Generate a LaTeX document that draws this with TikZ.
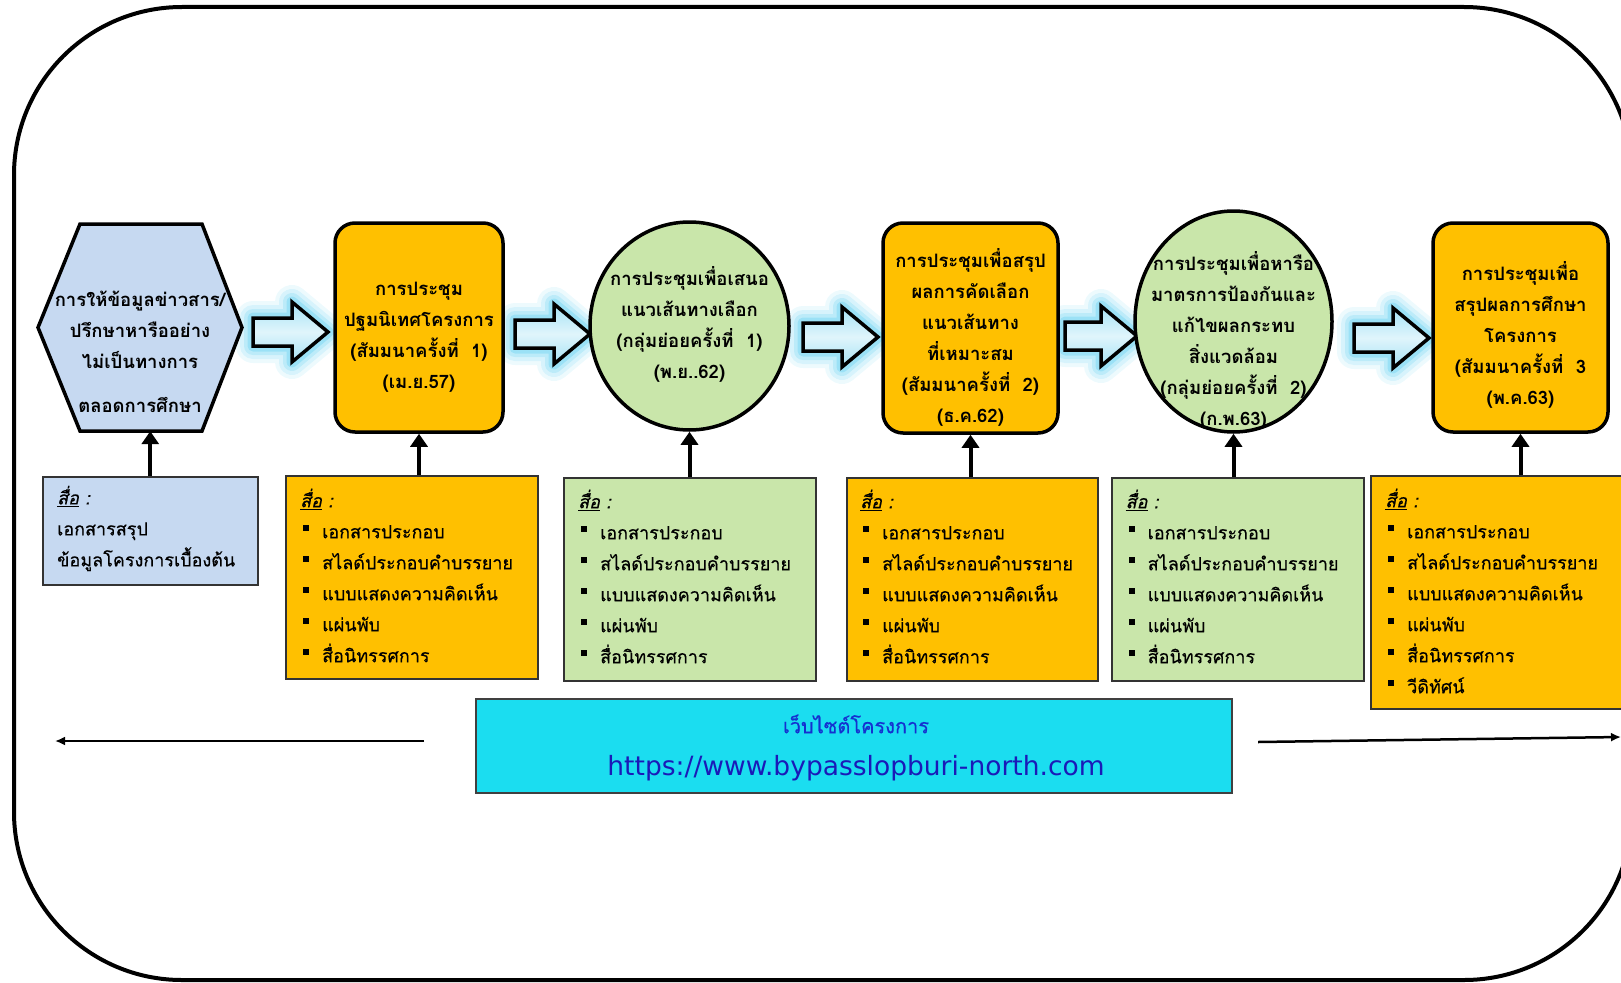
\documentclass[tikz,border=0pt]{standalone}
\usepackage{fontspec}
\setmainfont[Script=Thai]{Loma}
\newfontfamily\medfont[Script=Thai,FakeBold=0.5]{Loma}
\newfontfamily\urlfont{DejaVu Sans}
\usetikzlibrary{shapes.geometric,arrows.meta}
\definecolor{hexblue}{HTML}{C6D9F1}
\definecolor{orng}{HTML}{FFC000}
\definecolor{lgreen}{HTML}{C9E6AA}
\definecolor{webcyan}{HTML}{1BDDF0}
\definecolor{glowc}{HTML}{4FCBF0}
\definecolor{arrfill}{HTML}{A5E2F5}
\definecolor{titleblue}{HTML}{1530D0}
\definecolor{urlblue}{HTML}{1A1AB8}
\newcommand\sqb{\hspace*{3pt}\rule[7pt]{6pt}{6pt}\hspace{13pt}}
\newcommand\sue{\underline{\textit{สื่อ}}\textit{ :}}
\newcommand\medialist{\sqb เอกสารประกอบ\\\sqb สไลด์ประกอบคำบรรยาย\\\sqb แบบแสดงความคิดเห็น\\\sqb แผ่นพับ\\\sqb สื่อนิทรรศการ}
\newcommand\fatarrow[3]{%
 \foreach \w/\o in {34/0.10,26/0.14,18/0.2,11/0.3}{%
  \draw[line width=\w pt,draw=glowc,opacity=\o,line join=round] (#1,#3-14) -- (#2-36,#3-14) -- (#2-36,#3-30) -- (#2,#3) -- (#2-36,#3+30) -- (#2-36,#3+14) -- (#1,#3+14) -- cycle;}%
 \shade[top color=arrfill,bottom color=arrfill,middle color=white!65!arrfill] (#1,#3-14) -- (#2-36,#3-14) -- (#2-36,#3-30) -- (#2,#3) -- (#2-36,#3+30) -- (#2-36,#3+14) -- (#1,#3+14) -- cycle;
 \draw[line width=3.5pt,line join=miter] (#1,#3-14) -- (#2-36,#3-14) -- (#2-36,#3-30) -- (#2,#3) -- (#2-36,#3+30) -- (#2-36,#3+14) -- (#1,#3+14) -- cycle;}
\begin{document}
\begin{tikzpicture}[x=1pt,y=-1pt,
 nodetext/.style={font=\bfseries\fontsize{18.5pt}{31pt}\selectfont,align=center,inner sep=0pt},
 mediatext/.style={font=\medfont\fontsize{18pt}{31pt}\selectfont,align=left,inner sep=0pt,anchor=west},
 procbox/.style={draw=black,line width=3.5pt,rounded corners=20pt,fill=orng,inner sep=0pt},
 procell/.style={ellipse,draw=black,line width=3.5pt,fill=lgreen,inner sep=0pt},
 medbox/.style={draw=black!80,line width=1.5pt,inner sep=0pt,anchor=north west},
 conn/.style={line width=4pt,-{Triangle[length=13pt,width=17pt]}},
 sidearr/.style={line width=2.5pt,-{Latex[length=10pt,width=9pt]}}]
\useasboundingbox (0,0) rectangle (1621,982);
\draw[line width=4pt,rounded corners=168pt] (14,7) rectangle (1632,980);
% block arrows
\fatarrow{253}{328}{332}
\fatarrow{515}{590}{334}
\fatarrow{803}{878}{337}
\fatarrow{1065}{1137}{336}
\fatarrow{1354}{1429}{338}
% hexagon
\draw[line width=3.5pt,fill=hexblue,line join=miter] (80,224) -- (202,224) -- (242,327.5) -- (202,431) -- (80,431) -- (38,327.5) -- cycle;
\node[inner sep=0pt,minimum width=204pt,minimum height=207pt] (hex) at (140,327.5) {};
\node[nodetext] (hext) at (140,352) {การให้ข้อมูลข่าวสาร/\\ปรึกษาหารืออย่าง\\ไม่เป็นทางการ\\[13pt]ตลอดการศึกษา};
% process nodes
\node[procbox,minimum width=168pt,minimum height=209pt] (b1) at (419,327.5) {};
\node[procell,minimum width=199pt,minimum height=208pt] (c1) at (689.5,326) {};
\node[procbox,minimum width=175pt,minimum height=210pt] (b2) at (970.5,328) {};
\node[procell,minimum width=197pt,minimum height=221pt] (c2) at (1233.5,321.5) {};
\node[procbox,minimum width=175pt,minimum height=209pt] (b3) at (1520.5,327.5) {};
\node[nodetext] (b1t) at (419,337) {การประชุม\\ปฐมนิเทศโครงการ\\(สัมมนาครั้งที่~ 1)\\(เม.ย.57)};
\node[nodetext] (c1t) at (689.5,324) {การประชุมเพื่อเสนอ\\แนวเส้นทางเลือก\\(กลุ่มย่อยครั้งที่~ 1)\\(พ.ย..62)};
\node[nodetext] (b2t) at (970.5,337) {การประชุมเพื่อสรุป\\ผลการคัดเลือก\\แนวเส้นทาง\\ที่เหมาะสม\\(สัมมนาครั้งที่~ 2)\\(ธ.ค.62)};
\node[nodetext] (c2t) at (1233.5,340) {การประชุมเพื่อหารือ\\มาตรการป้องกันและ\\แก้ไขผลกระทบ\\สิ่งแวดล้อม\\(กลุ่มย่อยครั้งที่~ 2)\\(ก.พ.63)};
\node[nodetext] (b3t) at (1520.5,334.5) {การประชุมเพื่อ\\สรุปผลการศึกษา\\โครงการ\\(สัมมนาครั้งที่~ 3\\(พ.ค.63)};
% media boxes
\node[medbox,fill=hexblue,minimum width=215pt,minimum height=108pt] (m0) at (42,476) {};
\node[medbox,fill=orng,minimum width=252pt,minimum height=203pt] (m1) at (285,475) {};
\node[medbox,fill=lgreen,minimum width=252pt,minimum height=203pt] (m2) at (563,477) {};
\node[medbox,fill=orng,minimum width=251pt,minimum height=203pt] (m3) at (846,477) {};
\node[medbox,fill=lgreen,minimum width=252pt,minimum height=203pt] (m4) at (1111,477) {};
\node[medbox,fill=orng,minimum width=262pt,minimum height=233pt] (m5) at (1370,475) {};
\node[mediatext] (m0t) at (57,528.5) {\sue\\เอกสารสรุป\\ข้อมูลโครงการเบื้องต้น};
\node[mediatext] (m1t) at (300,575.5) {\sue\\\medialist};
\node[mediatext] (m2t) at (578,576.5) {\sue\\\medialist};
\node[mediatext] (m3t) at (860,576.5) {\sue\\\medialist};
\node[mediatext] (m4t) at (1125.5,576.5) {\sue\\\medialist};
\node[mediatext] (m5t) at (1385,591) {\sue\\\medialist\\\sqb วีดิทัศน์};
% connectors
\draw[conn] (m0.north) -- (m0.north |- hex.south);
\draw[conn] (b1.south |- m1.north) -- (b1.south);
\draw[conn] (c1.south |- m2.north) -- (c1.south);
\draw[conn] (b2.south |- m3.north) -- (b2.south);
\draw[conn] (c2.south |- m4.north) -- (c2.south);
\draw[conn] (b3.south |- m5.north) -- (b3.south);
% website
\node[draw=black!75,line width=2pt,fill=webcyan,minimum width=756pt,minimum height=94pt,inner sep=0pt] (web) at (854,746) {};
\node[font=\medfont\fontsize{20pt}{24pt}\selectfont,text=titleblue,inner sep=0pt] (webt) at (856,724) {เว็บไซต์โครงการ};
\node[font=\urlfont\fontsize{26.5pt}{30pt}\selectfont,text=urlblue,inner sep=0pt] (webu) at (856,768) {https://www.bypasslopburi-north.com};
\coordinate (la) at (424,741);
\coordinate (lb) at (55,741);
\coordinate (ra) at (1258,742);
\coordinate (rb) at (1621,737);
\draw[sidearr] (la) -- (lb);
\draw[sidearr] (ra) -- (rb);
\end{tikzpicture}
\end{document}
